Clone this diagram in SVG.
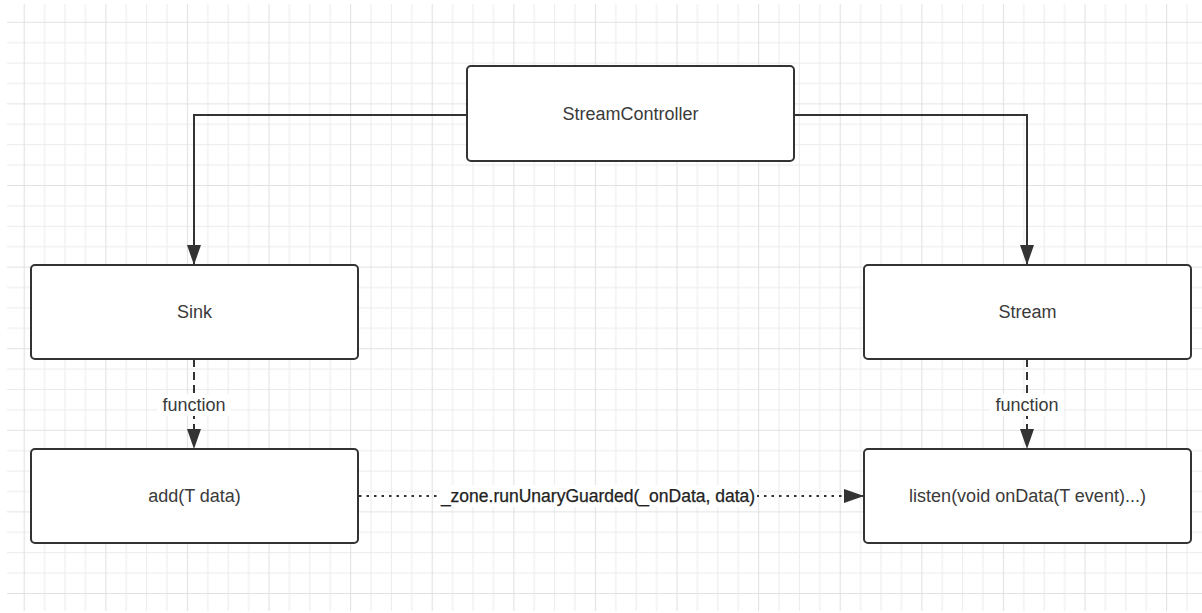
<svg xmlns="http://www.w3.org/2000/svg" width="1202" height="613" viewBox="0 0 1202 613">
<defs>
<pattern id="grid" patternUnits="userSpaceOnUse" x="23.7" y="21.8" width="81.6" height="81.6">
<path d="M20.9 0V81.6M41.3 0V81.6M61.7 0V81.6M0 20.9H81.6M0 41.3H81.6M0 61.7H81.6" stroke="#ebebeb" stroke-width="1" fill="none"/>
<path d="M0.5 0V81.6M0 0.5H81.6" stroke="#e2e2e2" stroke-width="1.2" fill="none"/>
</pattern>
<marker id="arrow" viewBox="0 0 20 14" refX="20" refY="7" markerWidth="20" markerHeight="14" markerUnits="userSpaceOnUse" orient="auto">
<path d="M0 0L20 7L0 14Z" fill="#333"/>
</marker>
<style>
.box{fill:#fff;stroke:#333;stroke-width:2}
.lbl{font-family:"Liberation Sans",Arial,sans-serif;font-size:18px;fill:#3a3a3a;text-anchor:middle;dominant-baseline:central}
.edge{fill:none;stroke:#333;stroke-width:2}
</style>
</defs>
<rect x="0" y="0" width="1202" height="613" fill="#fff"/>
<rect x="7" y="4" width="1195" height="607" fill="url(#grid)"/>
<g id="connectors">
<path class="edge" d="M467 115H194V265" marker-end="url(#arrow)"/>
<path class="edge" d="M794 115H1027V265" marker-end="url(#arrow)"/>
<path class="edge" d="M194 359V449" stroke-dasharray="8 5" marker-end="url(#arrow)"/>
<rect x="157" y="394" width="74" height="22" fill="#fff"/>
<text class="lbl" x="194" y="405">function</text>
<path class="edge" d="M1027 359V449" stroke-dasharray="8 5" marker-end="url(#arrow)"/>
<rect x="990" y="394" width="74" height="22" fill="#fff"/>
<text class="lbl" x="1027" y="405">function</text>
<path class="edge" d="M359 496H864" stroke-width="2.5" stroke-dasharray="2.5 5" marker-end="url(#arrow)"/>
<rect x="440" y="485" width="317" height="22" fill="#fff"/>
<text class="lbl" x="598" y="496" style="fill:#222;font-size:17.5px;stroke:#222;stroke-width:0.25">_zone.runUnaryGuarded(_onData, data)</text>
</g>
<g id="node-streamcontroller">
<rect class="box" x="467" y="66" width="327" height="95" rx="4"/>
<text class="lbl" x="630.5" y="114">StreamController</text>
</g>
<g id="node-sink">
<rect class="box" x="31" y="265" width="327" height="94" rx="4"/>
<text class="lbl" x="194.5" y="312">Sink</text>
</g>
<g id="node-stream">
<rect class="box" x="864" y="265" width="327" height="94" rx="4"/>
<text class="lbl" x="1027.5" y="312">Stream</text>
</g>
<g id="node-add">
<rect class="box" x="31" y="449" width="327" height="94" rx="4"/>
<text class="lbl" x="194.5" y="496">add(T data)</text>
</g>
<g id="node-listen">
<rect class="box" x="864" y="449" width="327" height="94" rx="4"/>
<text class="lbl" x="1027.5" y="496">listen(void onData(T event)...)</text>
</g>
</svg>
